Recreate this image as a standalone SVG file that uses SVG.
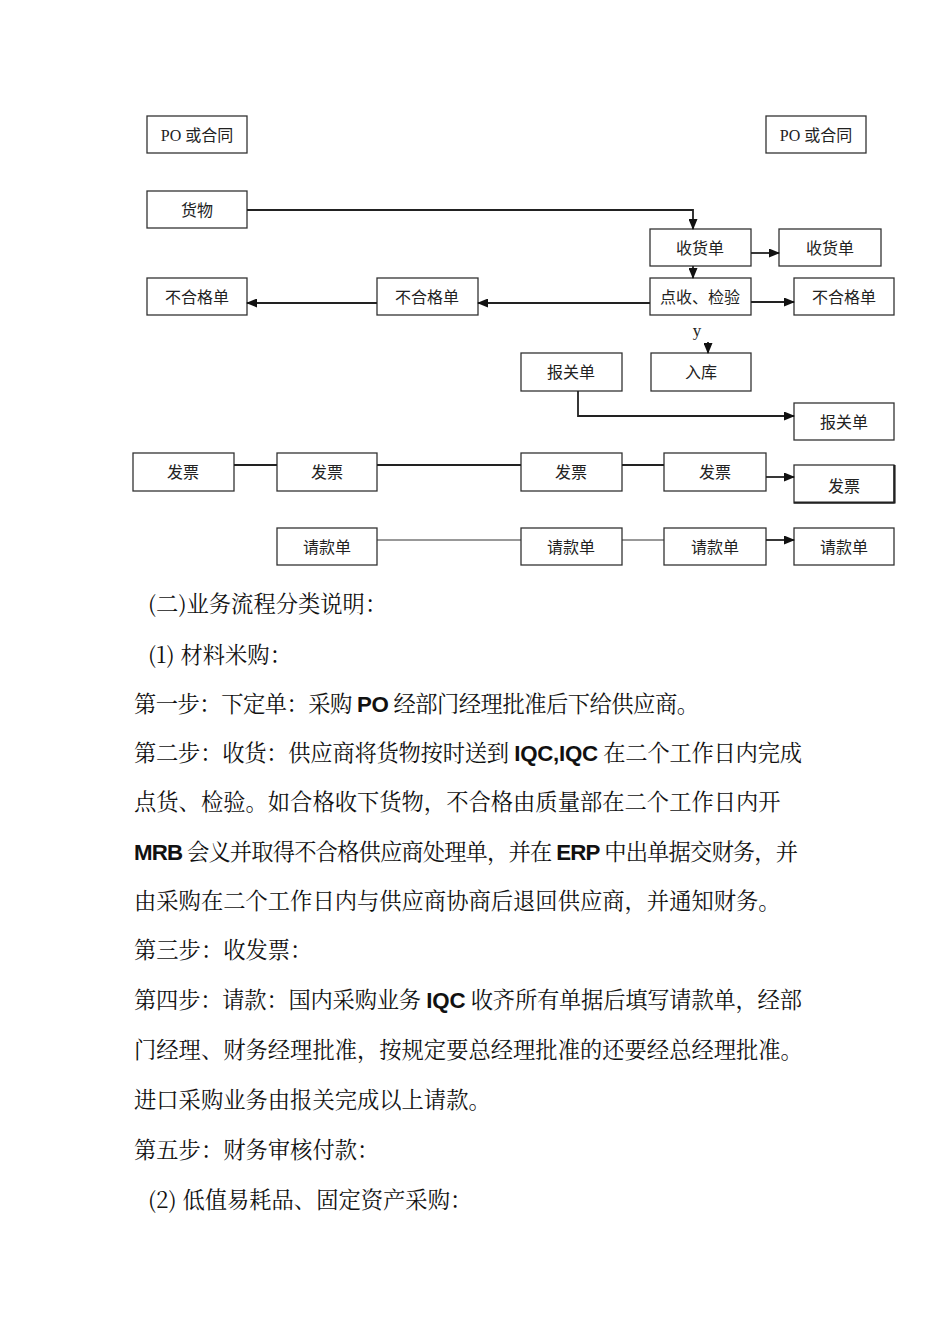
<svg xmlns="http://www.w3.org/2000/svg" width="950" height="1344" viewBox="0 0 950 1344">
<style>
.box{fill:#fff;stroke:#333;stroke-width:1.3}
.lbl{font-family:"Liberation Serif","Noto Sans CJK SC",serif;font-size:16px;fill:#222;text-anchor:middle;dominant-baseline:central}
.c{fill:none;stroke:#222;stroke-width:1.8}
.thin{fill:none;stroke:#333;stroke-width:1}
.p{font-family:"Noto Serif CJK SC","Noto Sans CJK SC",serif;font-size:22.3px;fill:#111}
.lat{font-family:"Liberation Sans",sans-serif;font-weight:bold}
</style>
<defs>
<marker id="ah" markerWidth="11" markerHeight="9" refX="10" refY="4.5" orient="auto" markerUnits="userSpaceOnUse">
<path d="M0,0 L11,4.5 L0,9 z" fill="#111"/>
</marker>
</defs>
<rect width="950" height="1344" fill="#fff"/>

<g id="po-left"><rect class="box" x="147" y="116" width="100" height="37"/><text class="lbl" x="197" y="135">PO 或合同</text></g>
<g id="po-right"><rect class="box" x="766" y="116" width="100" height="37"/><text class="lbl" x="816" y="135">PO 或合同</text></g>
<g id="goods"><rect class="box" x="147" y="191" width="100" height="37"/><text class="lbl" x="197" y="210">货物</text></g>
<g id="receipt"><rect class="box" x="650" y="229" width="101" height="37"/><text class="lbl" x="700" y="248">收货单</text></g>
<g id="receipt-right"><rect class="box" x="779" y="229" width="102" height="37"/><text class="lbl" x="830" y="248">收货单</text></g>
<g id="inspect"><rect class="box" x="650" y="278" width="101" height="37"/><text class="lbl" x="700" y="297">点收、检验</text></g>
<g id="reject-right"><rect class="box" x="794" y="278" width="100" height="37"/><text class="lbl" x="844" y="297">不合格单</text></g>
<g id="reject-mid"><rect class="box" x="377" y="278" width="101" height="37"/><text class="lbl" x="427" y="297">不合格单</text></g>
<g id="reject-left"><rect class="box" x="147" y="278" width="100" height="37"/><text class="lbl" x="197" y="297">不合格单</text></g>
<g id="stock"><rect class="box" x="651" y="353" width="100" height="38"/><text class="lbl" x="701" y="372">入库</text></g>
<g id="customs-left"><rect class="box" x="521" y="353" width="101" height="38"/><text class="lbl" x="571" y="372">报关单</text></g>
<g id="customs-right"><rect class="box" x="794" y="403" width="100" height="37"/><text class="lbl" x="844" y="422">报关单</text></g>
<g id="inv1"><rect class="box" x="133" y="453" width="101" height="38"/><text class="lbl" x="183" y="472">发票</text></g>
<g id="inv2"><rect class="box" x="277" y="453" width="100" height="38"/><text class="lbl" x="327" y="472">发票</text></g>
<g id="inv3"><rect class="box" x="521" y="453" width="101" height="38"/><text class="lbl" x="571" y="472">发票</text></g>
<g id="inv4"><rect class="box" x="664" y="453" width="102" height="38"/><text class="lbl" x="715" y="472">发票</text></g>
<g id="inv5"><rect class="box" x="794" y="465" width="100" height="38"/><path d="M794,502.5 H895 M894.5,465 V503.5" fill="none" stroke="#222" stroke-width="2.2"/><text class="lbl" x="844" y="486">发票</text></g>
<g id="req1"><rect class="box" x="277" y="528" width="100" height="37"/><text class="lbl" x="327" y="547">请款单</text></g>
<g id="req2"><rect class="box" x="521" y="528" width="101" height="37"/><text class="lbl" x="571" y="547">请款单</text></g>
<g id="req3"><rect class="box" x="664" y="528" width="102" height="37"/><text class="lbl" x="715" y="547">请款单</text></g>
<g id="req4"><rect class="box" x="794" y="528" width="100" height="37"/><text class="lbl" x="844" y="547">请款单</text></g>

<g id="connectors">
<path class="c" d="M247,210 H693 V229" marker-end="url(#ah)"/>
<path class="c" d="M751,253 H779" marker-end="url(#ah)"/>
<path class="c" d="M693,266 V278" marker-end="url(#ah)"/>
<path class="c" d="M751,302 H794" marker-end="url(#ah)"/>
<path class="c" d="M650,303 H478" marker-end="url(#ah)"/>
<path class="c" d="M377,303 H247" marker-end="url(#ah)"/>
<path class="c" d="M708,342 V353" marker-end="url(#ah)"/>
<text x="697" y="336" font-family="Liberation Serif,serif" font-size="17" fill="#222" text-anchor="middle">y</text>
<path class="c" d="M578,391 V416 H794" marker-end="url(#ah)"/>
<path class="c" d="M234,465 H277 M377,465 H521 M622,465 H664"/>
<path class="c" d="M766,477 H794" marker-end="url(#ah)"/>
<path class="thin" d="M377,540 H521 M622,540 H664"/>
<path class="c" d="M766,540 H794" marker-end="url(#ah)"/>
</g>

<g id="body">
<text class="p" x="148" y="612">(二)业务流程分类说明：</text>
<text class="p" x="148" y="663">(1) 材料米购：</text>
<text class="p" x="134" y="712" textLength="565" lengthAdjust="spacing">第一步：下定单：采购 <tspan class="lat">PO</tspan> 经部门经理批准后下给供应商。</text>
<text class="p" x="134" y="761" textLength="668" lengthAdjust="spacing">第二步：收货：供应商将货物按时送到 <tspan class="lat">IQC,IQC</tspan> 在二个工作日内完成</text>
<text class="p" x="134" y="810">点货、检验。如合格收下货物，不合格由质量部在二个工作日内开</text>
<text class="p" x="134" y="860" textLength="664" lengthAdjust="spacing"><tspan class="lat">MRB</tspan> 会义并取得不合格供应商处理单，并在 <tspan class="lat">ERP</tspan> 中出单据交财务，并</text>
<text class="p" x="134" y="909">由采购在二个工作日内与供应商协商后退回供应商，并通知财务。</text>
<text class="p" x="134" y="958">第三步：收发票：</text>
<text class="p" x="134" y="1008" textLength="668" lengthAdjust="spacing">第四步：请款：国内采购业务 <tspan class="lat">IQC</tspan> 收齐所有单据后填写请款单，经部</text>
<text class="p" x="134" y="1058">门经理、财务经理批准，按规定要总经理批准的还要经总经理批准。</text>
<text class="p" x="134" y="1108">进口采购业务由报关完成以上请款。</text>
<text class="p" x="134" y="1158">第五步：财务审核付款：</text>
<text class="p" x="148" y="1208">(2) 低值易耗品、固定资产采购：</text>
</g>
</svg>
